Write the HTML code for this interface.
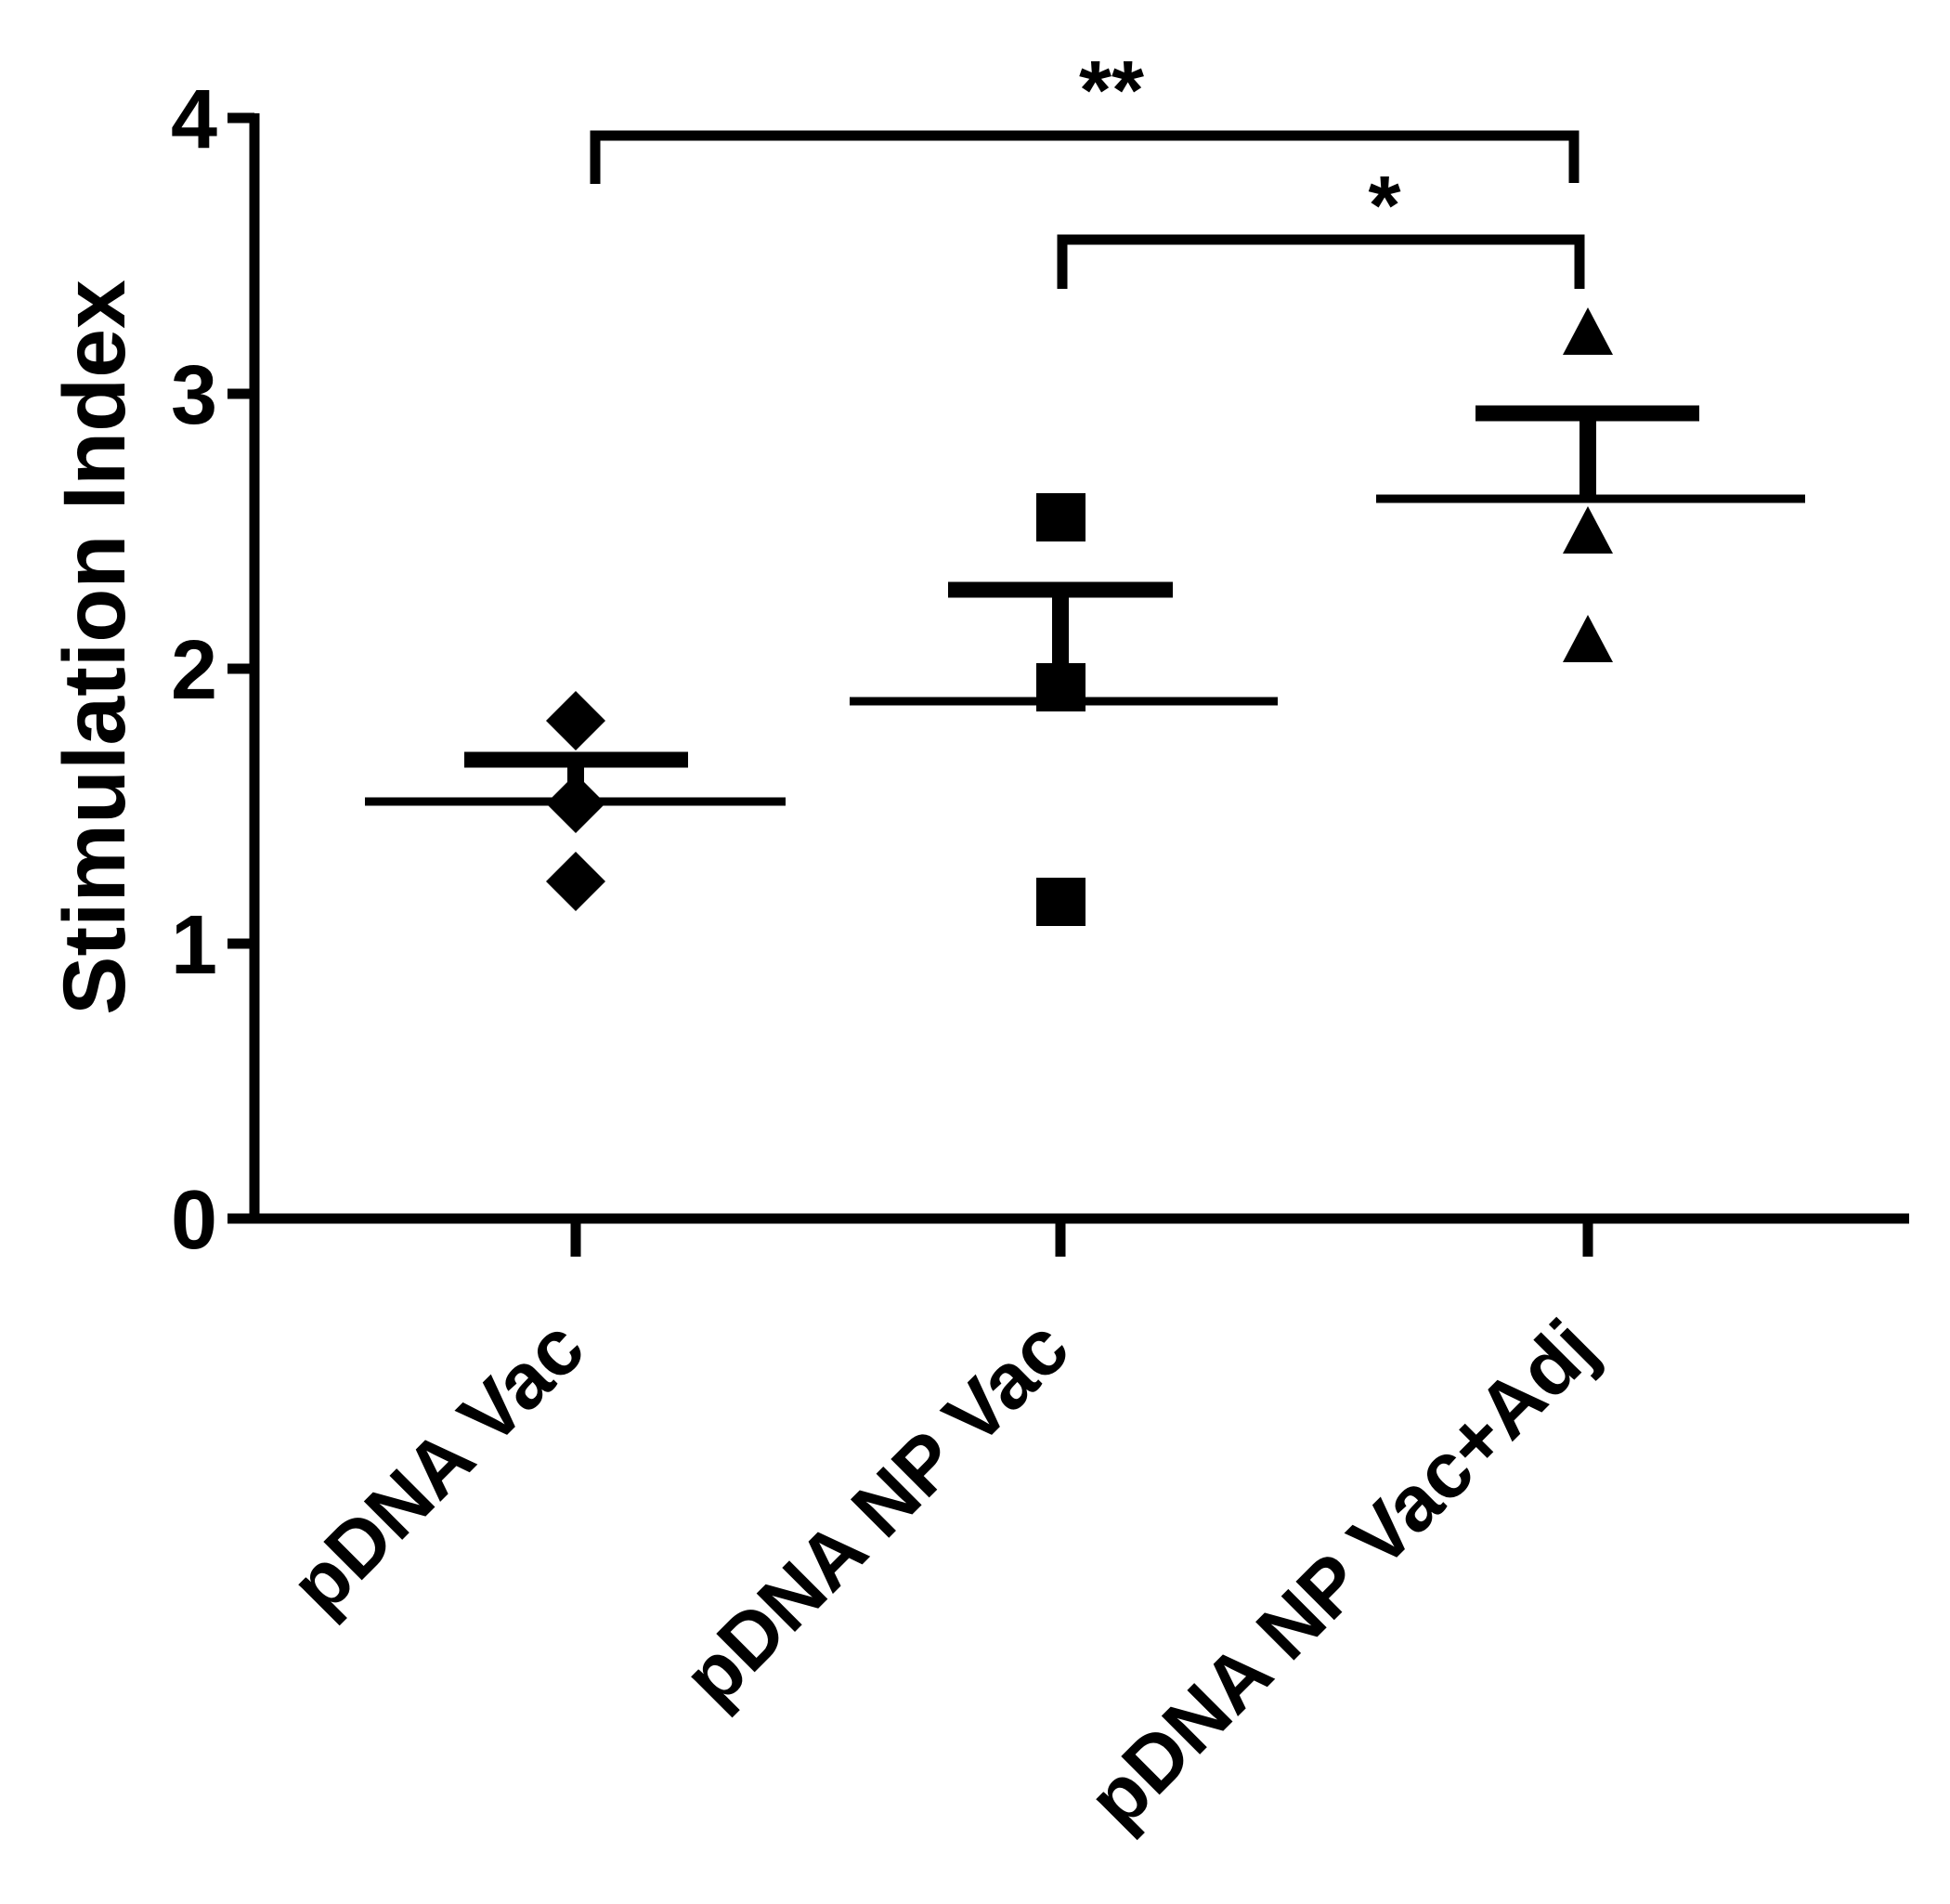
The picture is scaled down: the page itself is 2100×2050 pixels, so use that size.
<!DOCTYPE html>
<html><head><meta charset="utf-8"><style>html,body{margin:0;padding:0;background:#fff}svg{display:block}</style></head>
<body>
<svg width="2100" height="2050" viewBox="0 0 2100 2050" xmlns="http://www.w3.org/2000/svg" font-family="Liberation Sans, Arial, sans-serif" font-weight="bold">
<rect width="2100" height="2050" fill="#fff"/>
<!-- axes -->
<g stroke="#000" stroke-width="11" fill="none">
<line x1="274" y1="122" x2="274" y2="1317"/>
<line x1="245" y1="1312" x2="2056" y2="1312"/>
<line x1="245" y1="127" x2="274" y2="127"/>
<line x1="245" y1="424" x2="274" y2="424"/>
<line x1="245" y1="720" x2="274" y2="720"/>
<line x1="245" y1="1016" x2="274" y2="1016"/>
<line x1="620" y1="1312" x2="620" y2="1353"/>
<line x1="1142" y1="1312" x2="1142" y2="1353"/>
<line x1="1710" y1="1312" x2="1710" y2="1353"/>
<!-- brackets -->
<polyline points="641,198 641,146 1695,146 1695,197"/>
<polyline points="1144,311 1144,258 1701,258 1701,311"/>
</g>
<g font-size="90" text-anchor="end" fill="#000">
<text x="234" y="159">4</text>
<text x="234" y="456">3</text>
<text x="234" y="752">2</text>
<text x="234" y="1048">1</text>
<text x="234" y="1344">0</text>
</g>
<text font-size="95" text-anchor="middle" transform="translate(134,697) rotate(-90)">Stimulation Index</text>
<text font-size="90" x="1197" y="128" text-anchor="middle">**</text>
<text font-size="90" x="1491" y="252" text-anchor="middle">*</text>
<!-- x labels -->
<g font-size="85" text-anchor="end">
<text transform="translate(634,1457) rotate(-45)">pDNA Vac</text>
<text transform="translate(1156,1457) rotate(-45)">pDNA NP Vac</text>
<text transform="translate(1724,1457) rotate(-45)">pDNA NP Vac+Adj</text>
</g>
<!-- group 1 -->
<g fill="#000">
<polygon points="620,744 652,776 620,808 588,776"/>
<polygon points="620,833 652,865 620,897 588,865"/>
<polygon points="620,917 652,949 620,981 588,949"/>
<!-- group 2 -->
<rect x="1116" y="531" width="53" height="52"/>
<rect x="1116" y="714" width="53" height="52"/>
<rect x="1116" y="945" width="53" height="52"/>
<!-- group 3 -->
<polygon points="1710,331 1737,382 1683,382"/>
<polygon points="1710,545 1737,596 1683,596"/>
<polygon points="1710,662 1737,713 1683,713"/>
</g>
<g stroke="#000" fill="none">
<line x1="393" y1="863" x2="846" y2="863" stroke-width="9"/>
<line x1="500" y1="818" x2="741" y2="818" stroke-width="17"/>
<line x1="620" y1="818" x2="620" y2="863" stroke-width="18"/>
<line x1="915" y1="755" x2="1376" y2="755" stroke-width="9"/>
<line x1="1021" y1="635" x2="1263" y2="635" stroke-width="17"/>
<line x1="1142" y1="635" x2="1142" y2="755" stroke-width="18"/>
<line x1="1482" y1="537" x2="1944" y2="537" stroke-width="9"/>
<line x1="1589" y1="445" x2="1830" y2="445" stroke-width="17"/>
<line x1="1710" y1="445" x2="1710" y2="537" stroke-width="18"/>
</g>
</svg>
</body></html>
